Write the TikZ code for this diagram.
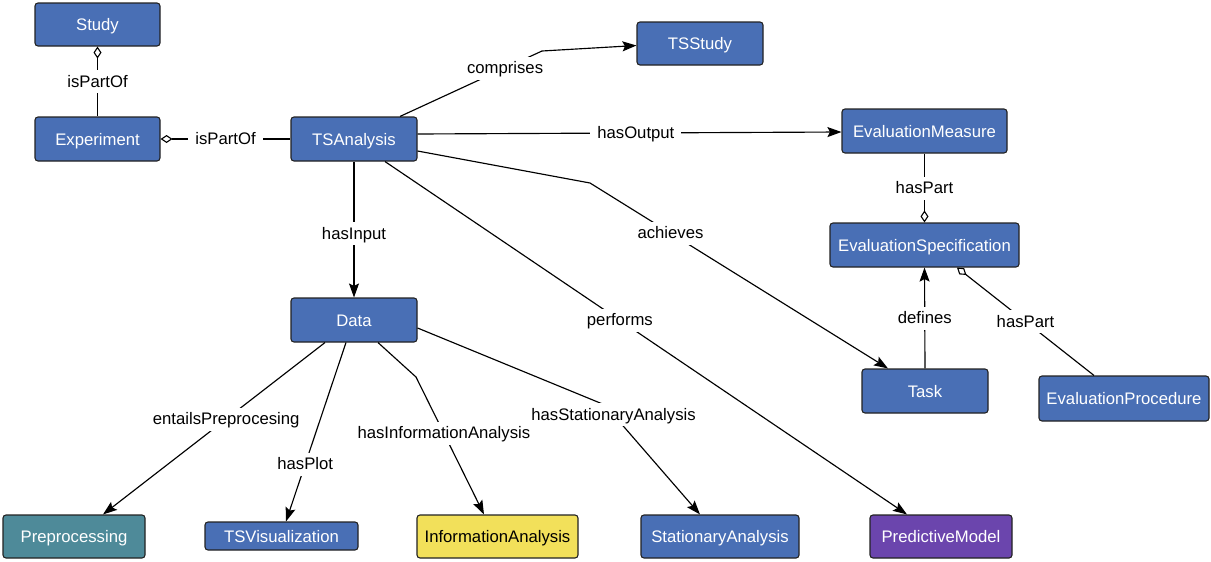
\documentclass[tikz,border=0pt]{standalone}
\usepackage{fontspec}
\setmainfont{Liberation Sans}
\usetikzlibrary{arrows.meta}
\definecolor{cblue}{RGB}{73,111,181}
\definecolor{cteal}{RGB}{78,138,153}
\definecolor{cyellow}{RGB}{242,224,90}
\definecolor{cpurple}{RGB}{107,69,173}
\definecolor{cborder}{RGB}{34,34,34}
\tikzset{
  box/.style={draw=cborder, line width=1.1pt, rounded corners=3pt, fill=cblue,
    text=white, inner sep=0pt, text height=12pt, text depth=0pt,
    font=\fontsize{16.7}{20}\selectfont},
  lab/.style={fill=white, text=black, inner xsep=7pt, inner ysep=5pt,
    text height=12pt, text depth=1pt,
    font=\fontsize{16.7}{20}\selectfont},
  conn/.style={draw=black, line width=1.15pt},
  arr/.style={conn, -{Stealth[length=14pt,width=10pt,inset=2.5pt]}},
  diamS/.style={conn, {Diamond[open,length=12pt,width=8pt,line width=1.1pt]}-},
  diamE/.style={conn, -{Diamond[open,length=12pt,width=8pt,line width=1.1pt]}}
}
\begin{document}
\begin{tikzpicture}[x=1pt,y=-1pt]
\useasboundingbox (0,0) rectangle (1211,562);
% nodes
\node[box, minimum width=125pt, minimum height=43pt] (study) at (97.5,24.5) {Study};
\node[box, minimum width=125pt, minimum height=44pt] (exp) at (97.5,139) {Experiment};
\node[box, minimum width=126pt, minimum height=44pt] (tsa) at (354,139) {TSAnalysis};
\node[box, minimum width=126pt, minimum height=43pt] (tss) at (700,43.5) {TSStudy};
\node[box, minimum width=165pt, minimum height=44pt] (em) at (924.5,131) {EvaluationMeasure};
\node[box, minimum width=189pt, minimum height=44pt] (es) at (924.5,245) {EvaluationSpecification};
\node[box, minimum width=126pt, minimum height=44pt] (task) at (925,391) {Task};
\node[box, minimum width=170pt, minimum height=45pt] (ep) at (1124,398.5) {EvaluationProcedure};
\node[box, minimum width=126pt, minimum height=44pt] (data) at (354,320) {Data};
\node[box, fill=cteal, minimum width=142pt, minimum height=43pt] (pre) at (74,536.5) {Preprocessing};
\node[box, minimum width=153pt, minimum height=28pt] (tsv) at (281.5,536) {TSVisualization};
\node[box, fill=cyellow, text=black, minimum width=161pt, minimum height=43pt] (ia) at (497.5,536.5) {InformationAnalysis};
\node[box, minimum width=158pt, minimum height=43pt] (sa) at (720,536.5) {StationaryAnalysis};
\node[box, fill=cpurple, minimum width=142pt, minimum height=43pt] (pm) at (941,536.5) {PredictiveModel};
% bend points
\coordinate (c1) at (542,51);
\coordinate (a1) at (590,183);
\coordinate (i1) at (416,377);
\coordinate (s1) at (605,405);
% connectors
\draw[diamS] (study.south) -- node[lab]{isPartOf} (exp.north);
\draw[diamS] (exp.east) -- node[lab]{isPartOf} (tsa.west);
\draw[arr] ([xshift=46pt]tsa.north) -- node[lab, pos=0.74]{comprises} (c1) -- ([yshift=-2pt]tss.west);
\draw[arr] ([yshift=5pt]tsa.east) -- node[lab, pos=0.515]{hasOutput} ([yshift=-1pt]em.west);
\draw[arr] ([yshift=-12pt]tsa.east) -- (a1) -- node[lab, pos=0.27]{achieves} ([xshift=-37pt]task.north);
\draw[arr] ([xshift=31pt]tsa.south) -- node[lab, pos=0.45]{performs} ([xshift=-34pt]pm.north);
\draw[arr] (tsa.south) -- node[lab, pos=0.53]{hasInput} (data.north);
\draw[arr] ([xshift=-29pt]data.south) -- node[lab, pos=0.445]{entailsPreprocesing} ([xshift=29pt]pre.north);
\draw[arr] ([xshift=-8pt]data.south) -- node[lab, pos=0.68]{hasPlot} ([xshift=4.5pt]tsv.north);
\draw[arr] ([xshift=24pt]data.south) -- (i1) -- node[lab, pos=0.41]{hasInformationAnalysis} ([xshift=-13.5pt]ia.north);
\draw[arr] ([yshift=-8pt]data.east) -- (s1) -- node[lab, pos=0.09]{hasStationaryAnalysis} ([xshift=-20pt]sa.north);
\draw[arr] (task.north) -- node[lab]{defines} (es.south);
\draw[diamE] (em.south) -- node[lab]{hasPart} (es.north);
\draw[diamE] ([xshift=-30pt]ep.north) -- node[lab]{hasPart} ([xshift=32.5pt]es.south);
\end{tikzpicture}
\end{document}
